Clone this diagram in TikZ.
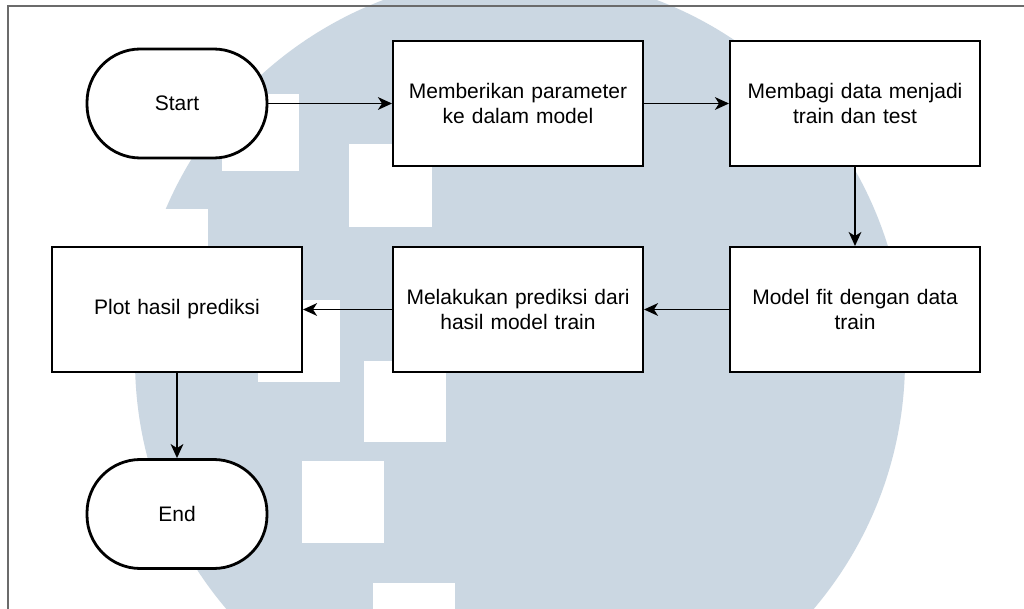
\documentclass[tikz,border=0pt]{standalone}
\usepackage{fontspec}
\setmainfont{Liberation Sans}
\usetikzlibrary{arrows.meta}
\definecolor{wm}{HTML}{CBD7E2}
\definecolor{frame}{HTML}{6B6B6B}
\tikzset{
  procbox/.style={draw=black, fill=white, line width=1.5pt, minimum width=187.5pt, minimum height=93.75pt, align=center, text width=180pt, font=\fontsize{15.75pt}{18.75pt}\selectfont, inner sep=0pt},
  term/.style={draw=black, fill=white, line width=2.1pt, rounded corners=40pt, minimum width=135pt, minimum height=81.75pt, align=center, font=\fontsize{15.75pt}{18.75pt}\selectfont, inner sep=0pt},
  flow/.style={draw=black, line width=1.4pt, -{Stealth[length=10.5pt, width=9.5pt, inset=3pt]}},
  wmsq/.style={fill=white, draw=none}
}
\begin{document}
\begin{tikzpicture}[x=0.75pt, y=-0.75pt]
\useasboundingbox (0,0) rectangle (1024,609);
\fill[white] (0,0) rectangle (1024,609);
\begin{scope}
\clip (0,0) rectangle (1024,609);
\fill[wm] (520,360) circle (385);
\fill[wmsq] (222,94) rectangle (299,171);
\fill[wmsq] (349,144) rectangle (432,227);
\fill[wmsq] (140,209) rectangle (208,250);
\fill[wmsq] (258,300) rectangle (340,382);
\fill[wmsq] (364,361) rectangle (446,442);
\fill[wmsq] (302,461) rectangle (384,543);
\fill[wmsq] (373,583) rectangle (455,620);
\end{scope}
\draw[frame, line width=1.5pt] (8,620) -- (8,6) -- (1030,6);

\node[term] (start) at (177,103.5) {Start};
\node[procbox] (param) at (518,103.5) {Memberikan parameter\\ke dalam model};
\node[procbox] (split) at (855,103.5) {Membagi data menjadi\\train dan test};
\node[procbox] (fit) at (855,309.5) {Model fit dengan data\\train};
\node[procbox] (pred) at (518,309.5) {Melakukan prediksi dari\\hasil model train};
\node[procbox] (plot) at (177,309.5) {Plot hasil prediksi};
\node[term] (end) at (177,514) {End};

\draw[flow] (start) -- (param);
\draw[flow] (param) -- (split);
\draw[flow] (split) -- (fit);
\draw[flow] (fit) -- (pred);
\draw[flow] (pred) -- (plot);
\draw[flow] (plot) -- (end);
\end{tikzpicture}
\end{document}
